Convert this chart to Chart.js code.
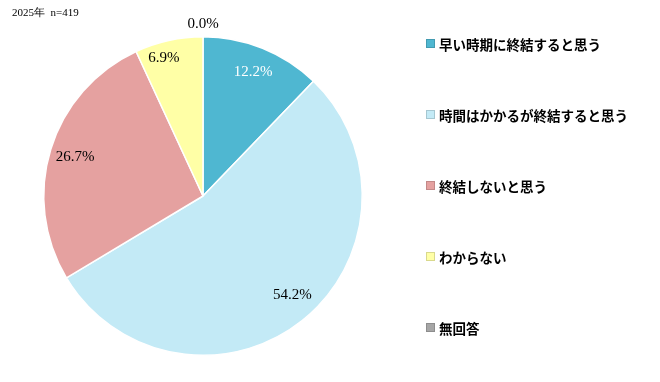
<!DOCTYPE html>
<html lang="ja">
<head>
    <meta charset="UTF-8">
    <title>2025年 n=419</title>
    <script src="https://cdn.jsdelivr.net/npm/chart.js"></script>
    <style>
        body {
            margin: 0;
            background: #fff;
        }
        .wrap {
            position: relative;
            width: 660px;
            height: 382px;
        }
        .note {
            position: absolute;
            left: 12px;
            top: 5px;
            font-family: "Liberation Serif", serif;
            font-size: 11px;
            color: #000;
        }
        .legend {
            position: absolute;
            left: 426px;
            top: 35px;
            font-family: "Noto Sans CJK JP", sans-serif;
            font-weight: bold;
            font-size: 13.5px;
            color: #000;
        }
        .legend div {
            height: 71px;
            line-height: 18px;
            white-space: nowrap;
        }
        .legend span {
            display: inline-block;
            width: 7px;
            height: 7px;
            margin-right: 4px;
            vertical-align: 2px;
            border: 1px solid rgba(0,0,0,0.15);
        }
    </style>
</head>
<body>
<div class="wrap">
    <canvas id="myChart" width="660" height="382"></canvas>
    <div class="note">2025年&nbsp; n=419</div>
    <div class="legend" id="legend"></div>
</div>

<script>
    const labels = ["早い時期に終結すると思う", "時間はかかるが終結すると思う", "終結しないと思う", "わからない", "無回答"];
    const values = [12.2, 54.2, 26.7, 6.9, 0.0];
    const colors = ['#4FB7D1', '#C3EAF6', '#E5A1A0', '#FFFFA6', '#A6A6A6'];
    const labelColors = ['#fff', '#000', '#000', '#000', '#000'];

    // legend as html
    const legend = document.getElementById('legend');
    labels.forEach((name, i) => {
        const row = document.createElement('div');
        row.innerHTML = '<span style="background:' + colors[i] + '"></span>' + name;
        legend.appendChild(row);
    });

    // percent labels inside the slices (0% goes just outside)
    const pctLabels = {
        id: 'pctLabels',
        afterDatasetsDraw(chart) {
            const ctx = chart.ctx;
            const arcs = chart.getDatasetMeta(0).data;
            ctx.save();
            ctx.font = '15px "Liberation Serif", serif';
            ctx.textAlign = 'center';
            ctx.textBaseline = 'middle';
            arcs.forEach((arc, i) => {
                let mid = (arc.startAngle + arc.endAngle) / 2;
                let f = 0.84;
                if (values[i] === 0) f = 1.08;
                else if (values[i] < 10) { f = 0.9; mid -= 0.06; }
                else if (values[i] > 50) mid -= 0.06;
                const x = arc.x + Math.cos(mid) * arc.outerRadius * f;
                const y = arc.y + Math.sin(mid) * arc.outerRadius * f;
                ctx.fillStyle = labelColors[i];
                ctx.fillText(values[i].toFixed(1) + '%', x, y);
            });
            ctx.restore();
        }
    };

    new Chart(document.getElementById('myChart'), {
        type: 'pie',
        data: {
            labels: labels,
            datasets: [{
                data: values,
                backgroundColor: colors,
                borderColor: '#fff',
                borderWidth: 1.5
            }]
        },
        options: {
            responsive: false,
            animation: false,
            layout: {
                padding: { left: 43, top: 36, right: 297, bottom: 26 }
            },
            plugins: {
                legend: { display: false },
                tooltip: { enabled: false }
            }
        },
        plugins: [pctLabels]
    });
</script>
</body>
</html>
